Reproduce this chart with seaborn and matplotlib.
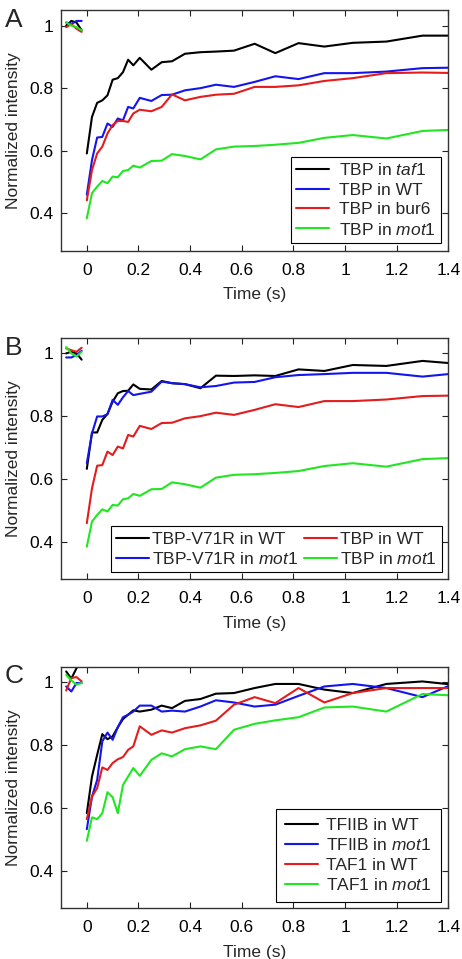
import matplotlib
matplotlib.use("Agg")
import matplotlib.pyplot as plt
from matplotlib.lines import Line2D
from matplotlib.ticker import FuncFormatter
import seaborn as sns
import pandas as pd

# time points (s) before and after the bleach
pre_t = [-0.08, -0.06, -0.04, -0.02]
post_t = [0, 0.02, 0.04, 0.06, 0.08, 0.10, 0.12, 0.14, 0.16, 0.18, 0.205, 0.25,
          0.29, 0.33, 0.38, 0.44, 0.50, 0.57, 0.65, 0.73, 0.82, 0.92, 1.03, 1.16,
          1.30, 1.45]

# panel A
a_taf1_pre = [1.0, 1.015, 1.01, 0.985]
a_taf1 = [0.591, 0.708, 0.753, 0.761, 0.777, 0.827, 0.832, 0.851, 0.891, 0.873,
          0.897, 0.859, 0.883, 0.886, 0.910, 0.915, 0.917, 0.920, 0.942, 0.912,
          0.944, 0.933, 0.945, 0.949, 0.968, 0.968]
tbp_wt_pre = [1.01, 1.005, 1.015, 1.015]
tbp_wt = [0.459, 0.570, 0.642, 0.644, 0.687, 0.676, 0.703, 0.697, 0.740, 0.735,
          0.769, 0.759, 0.778, 0.779, 0.793, 0.800, 0.811, 0.804, 0.820, 0.838,
          0.829, 0.848, 0.848, 0.853, 0.864, 0.866]
a_bur6_pre = [0.995, 1.005, 0.99, 0.98]
a_bur6 = [0.441, 0.538, 0.591, 0.613, 0.655, 0.682, 0.695, 0.695, 0.692, 0.719,
          0.731, 0.726, 0.740, 0.780, 0.761, 0.772, 0.779, 0.782, 0.804, 0.804,
          0.809, 0.823, 0.832, 0.848, 0.850, 0.848]
tbp_mot1_pre = [1.01, 1.0, 0.995, 0.985]
tbp_mot1 = [0.384, 0.464, 0.485, 0.503, 0.496, 0.517, 0.515, 0.535, 0.538, 0.552,
            0.546, 0.567, 0.568, 0.589, 0.583, 0.572, 0.604, 0.613, 0.615, 0.619,
            0.625, 0.641, 0.650, 0.639, 0.663, 0.668]

# panel B
v71r_wt_pre = [1.0, 1.005, 1.0, 0.98]
v71r_wt = [0.632, 0.748, 0.748, 0.788, 0.807, 0.846, 0.873, 0.880, 0.881, 0.901,
           0.887, 0.885, 0.912, 0.905, 0.902, 0.889, 0.929, 0.928, 0.930, 0.928,
           0.949, 0.944, 0.963, 0.960, 0.976, 0.966]
v71r_mot1_pre = [0.987, 0.987, 0.995, 1.008]
v71r_mot1 = [0.650, 0.745, 0.799, 0.799, 0.806, 0.852, 0.836, 0.860, 0.880, 0.867,
             0.871, 0.878, 0.910, 0.905, 0.902, 0.892, 0.896, 0.907, 0.909, 0.924,
             0.931, 0.934, 0.938, 0.938, 0.926, 0.938]
b_wt_pre = [1.016, 1.01, 1.005, 1.018]
b_mot1_pre = [1.02, 1.0, 0.99, 1.005]

# panel C
tfiib_wt_pre = [1.035, 1.012, 1.045, 1.08]
tfiib_wt = [0.583, 0.700, 0.769, 0.835, 0.819, 0.828, 0.857, 0.883, 0.897, 0.911,
            0.907, 0.913, 0.926, 0.918, 0.941, 0.947, 0.964, 0.966, 0.982, 0.995,
            0.995, 0.977, 0.966, 0.995, 1.003, 0.990]
tfiib_mot1_pre = [0.987, 0.971, 0.998, 0.998]
tfiib_mot1 = [0.532, 0.636, 0.689, 0.812, 0.840, 0.817, 0.857, 0.889, 0.897, 0.907,
              0.926, 0.926, 0.907, 0.910, 0.907, 0.923, 0.943, 0.936, 0.923, 0.929,
              0.957, 0.987, 0.995, 0.982, 0.953, 1.006]
taf1_wt_pre = [0.974, 1.014, 1.017, 1.003]
taf1_wt = [0.564, 0.636, 0.663, 0.729, 0.721, 0.743, 0.755, 0.762, 0.785, 0.796,
           0.860, 0.833, 0.847, 0.840, 0.854, 0.863, 0.878, 0.929, 0.953, 0.934,
           0.982, 0.936, 0.966, 0.982, 0.982, 0.982]
taf1_mot1_pre = [1.024, 1.006, 0.993, 0.998]
taf1_mot1 = [0.495, 0.570, 0.564, 0.583, 0.650, 0.634, 0.583, 0.673, 0.700, 0.727,
             0.702, 0.753, 0.774, 0.764, 0.787, 0.796, 0.787, 0.849, 0.868, 0.879,
             0.889, 0.920, 0.923, 0.907, 0.963, 0.957]

colors = ["#000000", "#1414ee", "#e41c1c", "#22e622"]

panels = [
    ("A", [("TBP in $\\mathit{taf1}$", a_taf1_pre, a_taf1),
           ("TBP in WT", tbp_wt_pre, tbp_wt),
           ("TBP in bur6", a_bur6_pre, a_bur6),
           ("TBP in $\\mathit{mot1}$", tbp_mot1_pre, tbp_mot1)]),
    ("B", [("TBP-V71R in WT", v71r_wt_pre, v71r_wt),
           ("TBP-V71R in $\\mathit{mot1}$", v71r_mot1_pre, v71r_mot1),
           ("TBP in WT", b_wt_pre, tbp_wt),
           ("TBP in $\\mathit{mot1}$", b_mot1_pre, tbp_mot1)]),
    ("C", [("TFIIB in WT", tfiib_wt_pre, tfiib_wt),
           ("TFIIB in $\\mathit{mot1}$", tfiib_mot1_pre, tfiib_mot1),
           ("TAF1 in WT", taf1_wt_pre, taf1_wt),
           ("TAF1 in $\\mathit{mot1}$", taf1_mot1_pre, taf1_mot1)]),
]

sns.set_style("ticks")
plt.rcParams["font.family"] = ["Liberation Sans", "DejaVu Sans"]
plt.rcParams["mathtext.fontset"] = "custom"
plt.rcParams["mathtext.rm"] = "Liberation Sans"
plt.rcParams["mathtext.it"] = "Liberation Sans:italic"
plt.rcParams["font.size"] = 12.5

fig = plt.figure(figsize=(4.62, 9.59), dpi=100)
W, H = 462, 959
# axes boxes in pixels: top, bottom
boxes = [(10, 250.7), (337.7, 579.3), (666.7, 908.3)]
left, right = 61, 448.3
legend_specs = [
    dict(bbox=(0.981, 0.033), ncol=1, tpad=0.55, bpad=0.3),
    dict(bbox=(0.984, 0.029), ncol=2, tpad=0.2, bpad=0.3),
    dict(bbox=(0.980, 0.027), ncol=1, tpad=0.5, bpad=0.5),
]
letter_base = [27, 355, 683]

fmt = FuncFormatter(lambda v, p: "%g" % round(v, 2))

for (letter, series), (top, bot), lspec, lb in zip(panels, boxes, legend_specs, letter_base):
    ax = fig.add_axes([left / W, 1 - bot / H, (right - left) / W, (bot - top) / H])
    rows = []
    for i, (name, pre, post) in enumerate(series):
        for t, v in zip(pre_t, pre):
            rows.append({"t": t, "v": v, "s": i, "seg": f"{i}pre"})
        for t, v in zip(post_t, post):
            rows.append({"t": t, "v": v, "s": i, "seg": f"{i}post"})
    df = pd.DataFrame(rows)
    sns.lineplot(data=df, x="t", y="v", hue="s", units="seg", estimator=None,
                 palette=dict(enumerate(colors)), linewidth=1.5, legend=False,
                 sort=False, ax=ax)
    ax.set_xlim(-0.1, 1.4)
    ax.set_ylim(0.28, 1.05)
    ax.set_xticks([0, 0.2, 0.4, 0.6, 0.8, 1.0, 1.2, 1.4])
    ax.set_yticks([0.4, 0.6, 0.8, 1.0])
    ax.xaxis.set_major_formatter(fmt)
    ax.yaxis.set_major_formatter(fmt)
    ax.tick_params(direction="in", top=True, right=True, length=4, width=0.8,
                   labelsize=12.5, colors="#222222", labelcolor="black")
    ax.tick_params(axis="x", pad=8.5)
    ax.tick_params(axis="y", pad=5.5)
    for sp in ax.spines.values():
        sp.set_linewidth(1.0)
        sp.set_color("#333333")
    ax.set_xlabel("Time (s)", fontsize=12.5, labelpad=7)
    ax.set_ylabel("Normalized intensity", fontsize=12.5, labelpad=6)

    handles = [Line2D([], [], color=c, lw=1.5) for c in colors]
    labels = [s[0] for s in series]
    leg = ax.legend(handles, labels, loc="lower right", bbox_to_anchor=lspec["bbox"],
                    borderaxespad=0, ncol=lspec["ncol"], fancybox=False, framealpha=1,
                    edgecolor="black", fontsize=12.5, handlelength=1.9,
                    handletextpad=lspec["tpad"], labelspacing=0.25, columnspacing=0.3,
                    borderpad=lspec["bpad"])
    leg.get_frame().set_linewidth(0.8)

    fig.text(5 / W, 1 - lb / H, letter, fontsize=19, va="baseline", ha="left")

fig.savefig("out.png", dpi=100)
